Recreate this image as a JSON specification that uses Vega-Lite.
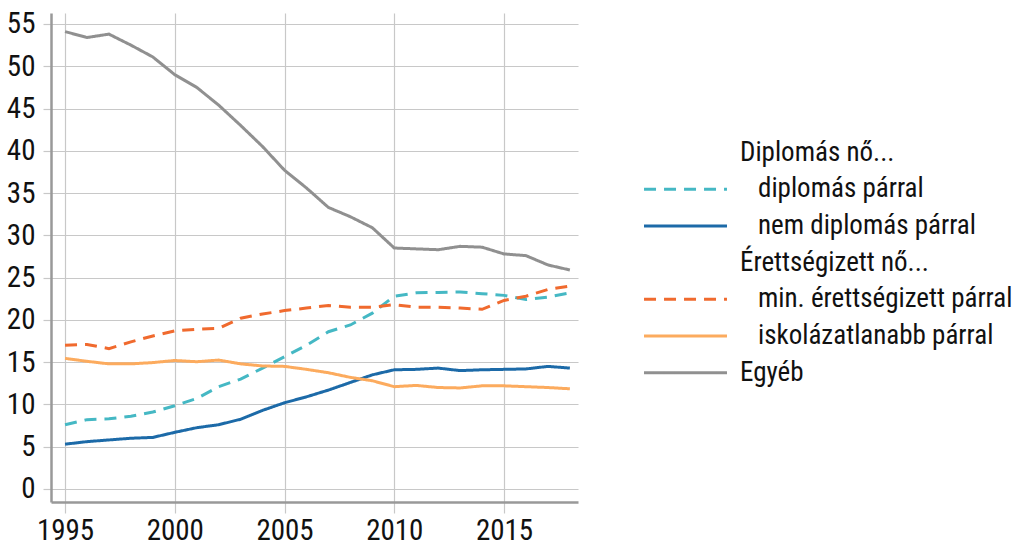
{
  "$schema": "https://vega.github.io/schema/vega-lite/v6.json",
  "autosize": {"type": "none"},
  "width": 527,
  "height": 489,
  "padding": {"left": 51, "top": 13, "right": 443, "bottom": 45},
  "background": "white",
  "config": {
    "font": "Roboto Condensed, Liberation Sans Narrow, Roboto, sans-serif",
    "view": {"stroke": null},
    "axis": {
      "gridColor": "#c8c8c8",
      "gridWidth": 1.2,
      "tickColor": "#c8c8c8",
      "tickWidth": 1.2,
      "domainColor": "#999999",
      "domainWidth": 2.5,
      "labelColor": "#111111",
      "labelFontSize": 29,
      "title": null
    },
    "legend": {
      "symbolType": "M-3.95,0H3.95",
      "symbolSize": 441,
      "symbolStrokeWidth": 3,
      "labelFontSize": 27,
      "labelColor": "#111111",
      "labelOffset": 41,
      "rowPadding": 8.7,
      "labelLimit": 400
    }
  },
  "data": {
    "values": [
      {"year": 1995, "Egyéb": 54.1, "diplomás párral": 7.6, "nem diplomás párral": 5.3, "érettségizett párral": 17.0, "iskolázatlanabb párral": 15.45},
      {"year": 1996, "Egyéb": 53.4, "diplomás párral": 8.2, "nem diplomás párral": 5.6, "érettségizett párral": 17.1, "iskolázatlanabb párral": 15.1},
      {"year": 1997, "Egyéb": 53.8, "diplomás párral": 8.3, "nem diplomás párral": 5.8, "érettségizett párral": 16.6, "iskolázatlanabb párral": 14.8},
      {"year": 1998, "Egyéb": 52.5, "diplomás párral": 8.6, "nem diplomás párral": 6.0, "érettségizett párral": 17.4, "iskolázatlanabb párral": 14.8},
      {"year": 1999, "Egyéb": 51.1, "diplomás párral": 9.1, "nem diplomás párral": 6.1, "érettségizett párral": 18.1, "iskolázatlanabb párral": 14.95},
      {"year": 2000, "Egyéb": 49.0, "diplomás párral": 9.85, "nem diplomás párral": 6.7, "érettségizett párral": 18.7, "iskolázatlanabb párral": 15.2},
      {"year": 2001, "Egyéb": 47.5, "diplomás párral": 10.7, "nem diplomás párral": 7.25, "érettségizett párral": 18.9, "iskolázatlanabb párral": 15.05},
      {"year": 2002, "Egyéb": 45.4, "diplomás párral": 12.1, "nem diplomás párral": 7.6, "érettségizett párral": 19.0, "iskolázatlanabb párral": 15.25},
      {"year": 2003, "Egyéb": 43.0, "diplomás párral": 13.0, "nem diplomás párral": 8.25, "érettségizett párral": 20.2, "iskolázatlanabb párral": 14.8},
      {"year": 2004, "Egyéb": 40.5, "diplomás párral": 14.3, "nem diplomás párral": 9.3, "érettségizett párral": 20.7, "iskolázatlanabb párral": 14.55},
      {"year": 2005, "Egyéb": 37.7, "diplomás párral": 15.65, "nem diplomás párral": 10.2, "érettségizett párral": 21.1, "iskolázatlanabb párral": 14.5},
      {"year": 2006, "Egyéb": 35.6, "diplomás párral": 17.0, "nem diplomás párral": 10.9, "érettségizett párral": 21.4, "iskolázatlanabb párral": 14.15},
      {"year": 2007, "Egyéb": 33.3, "diplomás párral": 18.6, "nem diplomás párral": 11.7, "érettségizett párral": 21.7, "iskolázatlanabb párral": 13.75},
      {"year": 2008, "Egyéb": 32.2, "diplomás párral": 19.4, "nem diplomás párral": 12.6, "érettségizett párral": 21.5, "iskolázatlanabb párral": 13.2},
      {"year": 2009, "Egyéb": 30.9, "diplomás párral": 20.8, "nem diplomás párral": 13.5, "érettségizett párral": 21.5, "iskolázatlanabb párral": 12.8},
      {"year": 2010, "Egyéb": 28.5, "diplomás párral": 22.8, "nem diplomás párral": 14.1, "érettségizett párral": 21.8, "iskolázatlanabb párral": 12.1},
      {"year": 2011, "Egyéb": 28.4, "diplomás párral": 23.2, "nem diplomás párral": 14.15, "érettségizett párral": 21.5, "iskolázatlanabb párral": 12.25},
      {"year": 2012, "Egyéb": 28.3, "diplomás párral": 23.25, "nem diplomás párral": 14.3, "érettségizett párral": 21.5, "iskolázatlanabb párral": 12.0},
      {"year": 2013, "Egyéb": 28.7, "diplomás párral": 23.3, "nem diplomás párral": 14.0, "érettségizett párral": 21.4, "iskolázatlanabb párral": 11.95},
      {"year": 2014, "Egyéb": 28.6, "diplomás párral": 23.1, "nem diplomás párral": 14.1, "érettségizett párral": 21.25, "iskolázatlanabb párral": 12.2},
      {"year": 2015, "Egyéb": 27.8, "diplomás párral": 22.9, "nem diplomás párral": 14.15, "érettségizett párral": 22.3, "iskolázatlanabb párral": 12.2},
      {"year": 2016, "Egyéb": 27.6, "diplomás párral": 22.4, "nem diplomás párral": 14.2, "érettségizett párral": 22.8, "iskolázatlanabb párral": 12.1},
      {"year": 2017, "Egyéb": 26.5, "diplomás párral": 22.7, "nem diplomás párral": 14.5, "érettségizett párral": 23.6, "iskolázatlanabb párral": 12.0},
      {"year": 2018, "Egyéb": 25.9, "diplomás párral": 23.2, "nem diplomás párral": 14.3, "érettségizett párral": 24.0, "iskolázatlanabb párral": 11.85}
    ]
  },
  "transform": [
    {"fold": ["diplomás párral", "nem diplomás párral", "érettségizett párral", "iskolázatlanabb párral", "Egyéb"], "as": ["series", "value"]}
  ],
  "mark": {"type": "line", "strokeWidth": 3, "strokeCap": "butt", "clip": true},
  "encoding": {
    "x": {
      "field": "year", "type": "quantitative",
      "scale": {"domain": [1994.36, 2018.37], "nice": false, "zero": false},
      "axis": {"values": [1995, 2000, 2005, 2010, 2015], "format": "d", "grid": true, "tickSize": 11, "labelPadding": 3, "labelFlush": false}
    },
    "y": {
      "field": "value", "type": "quantitative",
      "scale": {"domain": [-1.54, 56.3], "nice": false, "zero": false},
      "axis": {"values": [0, 5, 10, 15, 20, 25, 30, 35, 40, 45, 50, 55], "grid": true, "tickSize": 8, "labelPadding": 8, "labelFlush": false}
    },
    "color": {
      "field": "series", "type": "nominal",
      "scale": {
        "domain": ["Diplomás nő", "diplomás párral", "nem diplomás párral", "Érettségizett nő", "érettségizett párral", "iskolázatlanabb párral", "Egyéb"],
        "range": ["transparent", "#45b8c4", "#1c6aa8", "transparent", "#f06a2e", "#fcab5e", "#909090"]
      },
      "legend": {
        "title": null,
        "orient": "none",
        "legendX": 621,
        "legendY": 126,
        "labelExpr": "datum.label == 'Diplomás nő' ? 'Diplomás nő...' : datum.label == 'Érettségizett nő' ? 'Érettségizett nő...' : datum.label == 'érettségizett párral' ? 'min. érettségizett párral' : datum.label",
        "encode": {
          "labels": {
            "update": {
              "dx": {"signal": "indexof(['Diplomás nő', 'Érettségizett nő', 'Egyéb'], datum.value) >= 0 ? 0 : 18"}
            }
          }
        }
      }
    },
    "strokeDash": {
      "field": "series", "type": "nominal",
      "scale": {
        "domain": ["Diplomás nő", "diplomás párral", "nem diplomás párral", "Érettségizett nő", "érettségizett párral", "iskolázatlanabb párral", "Egyéb"],
        "range": [[1, 0], [12, 8], [1, 0], [1, 0], [12, 8], [1, 0], [1, 0]]
      },
      "legend": {
        "title": null,
        "orient": "none",
        "legendX": 621,
        "legendY": 126,
        "labelExpr": "datum.label == 'Diplomás nő' ? 'Diplomás nő...' : datum.label == 'Érettségizett nő' ? 'Érettségizett nő...' : datum.label == 'érettségizett párral' ? 'min. érettségizett párral' : datum.label",
        "encode": {
          "labels": {
            "update": {
              "dx": {"signal": "indexof(['Diplomás nő', 'Érettségizett nő', 'Egyéb'], datum.value) >= 0 ? 0 : 18"}
            }
          }
        }
      }
    }
  }
}
